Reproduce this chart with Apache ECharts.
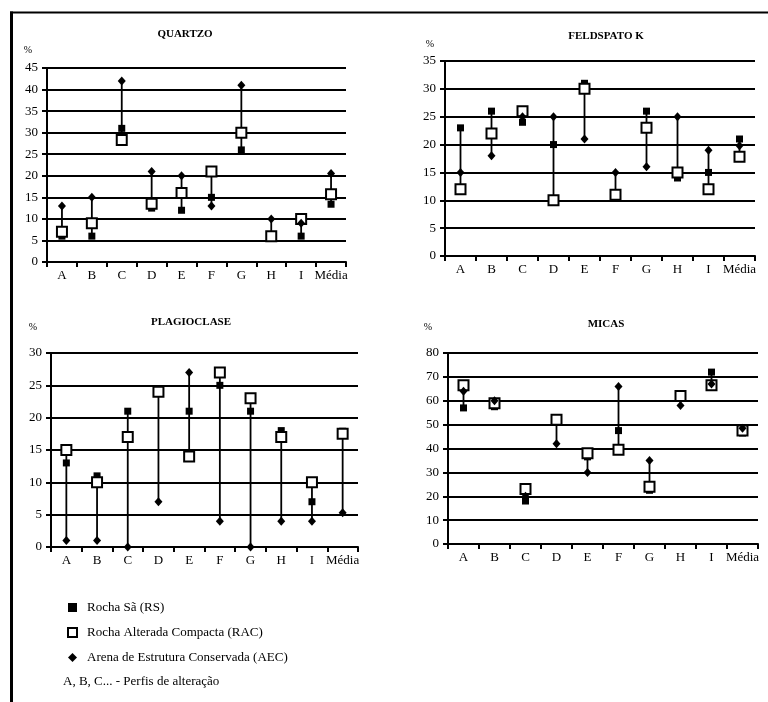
<!DOCTYPE html>
<html>
<head>
<meta charset="utf-8">
<script src="https://cdn.jsdelivr.net/npm/echarts@6/dist/echarts.min.js"></script>
<style>
html,body{margin:0;padding:0;background:#fff;}
#chart{width:768px;height:702px;}
</style>
</head>
<body>
<div id="chart"></div>
<script>
// ---- data ----
const categories = ['A','B','C','D','E','F','G','H','I','Média'];

const quartzoRS  = [6, 6, 31, 12.5, 12, 15, 26, 6, 6, 13.4];
const quartzoRAC = [7, 9, 28.3, 13.5, 16, 21, 30, 6, 10, 15.7];
const quartzoAEC = [13, 15, 42, 21, 20, 13, 41, 10, 9, 20.5];

const feldspatoRS  = [23, 26, 24, 20, 31, 11, 26, 14, 15, 21];
const feldspatoRAC = [12, 22, 26, 10, 30, 11, 23, 15, 12, 17.8];
const feldspatoAEC = [15, 18, 25, 25, 21, 15, 16, 25, 19, 19.8];

const plagioRS  = [13, 11, 21, 24, 21, 25, 21, 18, 7, 17.9];
const plagioRAC = [15, 10, 17, 24, 14, 27, 23, 17, 10, 17.5];
const plagioAEC = [1, 1, 0, 7, 27, 4, 0, 4, 4, 5.3];

const micasRS  = [57, 57.5, 18, 52, 36.5, 47.5, 22.5, 62, 72, 46.5];
const micasRAC = [66.5, 59, 23, 52, 38, 39.5, 24, 62, 66.5, 47.5];
const micasAEC = [64, 60, 20, 42, 30, 66, 35, 58, 67, 48.5];

const panelTitles = ['QUARTZO', 'FELDSPATO K', 'PLAGIOCLASE', 'MICAS'];
const yMax = [45, 35, 30, 80];
const yInterval = [5, 5, 5, 10];

const legendNames = ['Rocha Sã (RS)', 'Rocha Alterada Compacta (RAC)', 'Arena de Estrutura Conservada (AEC)'];
const noteText = 'A, B, C... - Perfis de alteração';

// ---- layout ----
const FONT = '"Liberation Serif", "DejaVu Serif", serif';
const grids = [
  {left: 47, top: 68, width: 299, height: 194},
  {left: 445, top: 61, width: 310, height: 195},
  {left: 51, top: 353, width: 307, height: 194},
  {left: 448, top: 353, width: 310, height: 191}
];
const titlePos = [[185, 34], [606, 36], [191, 322], [606, 324]];
const pctPos = [[28, 50], [430, 44], [33, 327], [428, 327]];

const panels = [
  [quartzoRS, quartzoRAC, quartzoAEC],
  [feldspatoRS, feldspatoRAC, feldspatoAEC],
  [plagioRS, plagioRAC, plagioAEC],
  [micasRS, micasRAC, micasAEC]
];

const xAxes = [], yAxes = [], series = [], graphics = [];

panels.forEach((p, g) => {
  xAxes.push({
    type: 'category', gridIndex: g, data: categories, boundaryGap: true,
    axisLine: {lineStyle: {color: '#000', width: 2}},
    axisTick: {show: true, length: 5, lineStyle: {color: '#000', width: 2}},
    axisLabel: {color: '#000', fontFamily: FONT, fontSize: 13, margin: 7, interval: 0},
    splitLine: {show: false}
  });
  yAxes.push({
    type: 'value', gridIndex: g, min: 0, max: yMax[g], interval: yInterval[g],
    axisLine: {show: true, lineStyle: {color: '#000', width: 2}},
    axisTick: {show: true, length: 5, lineStyle: {color: '#000', width: 2}},
    axisLabel: {color: '#000', fontFamily: FONT, fontSize: 13, margin: 9},
    splitLine: {show: true, lineStyle: {color: '#000', width: 2}}
  });
  const [rs, rac, aec] = p;
  const range = categories.map((c, i) => [i, Math.min(rs[i], rac[i], aec[i]), Math.max(rs[i], rac[i], aec[i])]);
  series.push({
    type: 'custom', xAxisIndex: g, yAxisIndex: g, data: range, z: 2, silent: true,
    encode: {x: 0, y: [1, 2]},
    renderItem: (params, api) => {
      const p1 = api.coord([api.value(0), api.value(1)]);
      const p2 = api.coord([api.value(0), api.value(2)]);
      return {type: 'line', shape: {x1: p1[0], y1: p1[1], x2: p2[0], y2: p2[1]},
              style: {stroke: '#000', lineWidth: 1.8}};
    }
  });
  series.push({
    name: legendNames[0], type: 'scatter', xAxisIndex: g, yAxisIndex: g, data: rs, z: 3,
    symbol: 'rect', symbolSize: 7, itemStyle: {color: '#000', opacity: 1}
  });
  series.push({
    name: legendNames[1], type: 'scatter', xAxisIndex: g, yAxisIndex: g, data: rac, z: 4,
    symbol: 'rect', symbolSize: 10, itemStyle: {color: '#fff', borderColor: '#000', borderWidth: 2, opacity: 1}
  });
  series.push({
    name: legendNames[2], type: 'scatter', xAxisIndex: g, yAxisIndex: g, data: aec, z: 5,
    symbol: 'diamond', symbolSize: [8, 9], itemStyle: {color: '#000', opacity: 1}
  });
  graphics.push({
    type: 'text', x: titlePos[g][0], y: titlePos[g][1],
    style: {text: panelTitles[g], font: 'bold 11px ' + FONT, fill: '#000', textAlign: 'center', textVerticalAlign: 'middle'}
  });
  graphics.push({
    type: 'text', x: pctPos[g][0], y: pctPos[g][1],
    style: {text: '%', font: '10px ' + FONT, fill: '#000', textAlign: 'center', textVerticalAlign: 'middle'}
  });
});

// frame
graphics.push({type: 'line', shape: {x1: 10, y1: 12.5, x2: 768, y2: 12.5}, style: {stroke: '#000', lineWidth: 2}});
graphics.push({type: 'line', shape: {x1: 11.5, y1: 11.5, x2: 11.5, y2: 702}, style: {stroke: '#000', lineWidth: 3}});
// note
graphics.push({type: 'text', x: 63, y: 682,
  style: {text: noteText, font: '13px ' + FONT, fill: '#000', textVerticalAlign: 'middle'}});

const chart = echarts.init(document.getElementById('chart'), null, {renderer: 'canvas'});
chart.setOption({
  backgroundColor: '#fff',
  animation: false,
  grid: grids,
  xAxis: xAxes,
  yAxis: yAxes,
  series: series,
  legend: {
    data: legendNames.map(n => ({name: n})),
    orient: 'vertical', left: 62, top: 596, itemGap: 12,
    itemWidth: 9, itemHeight: 9, selectedMode: false,
    textStyle: {fontFamily: FONT, fontSize: 13, color: '#000', padding: [0, 0, 0, 5]}
  },
  graphic: graphics
});
</script>
</body>
</html>
